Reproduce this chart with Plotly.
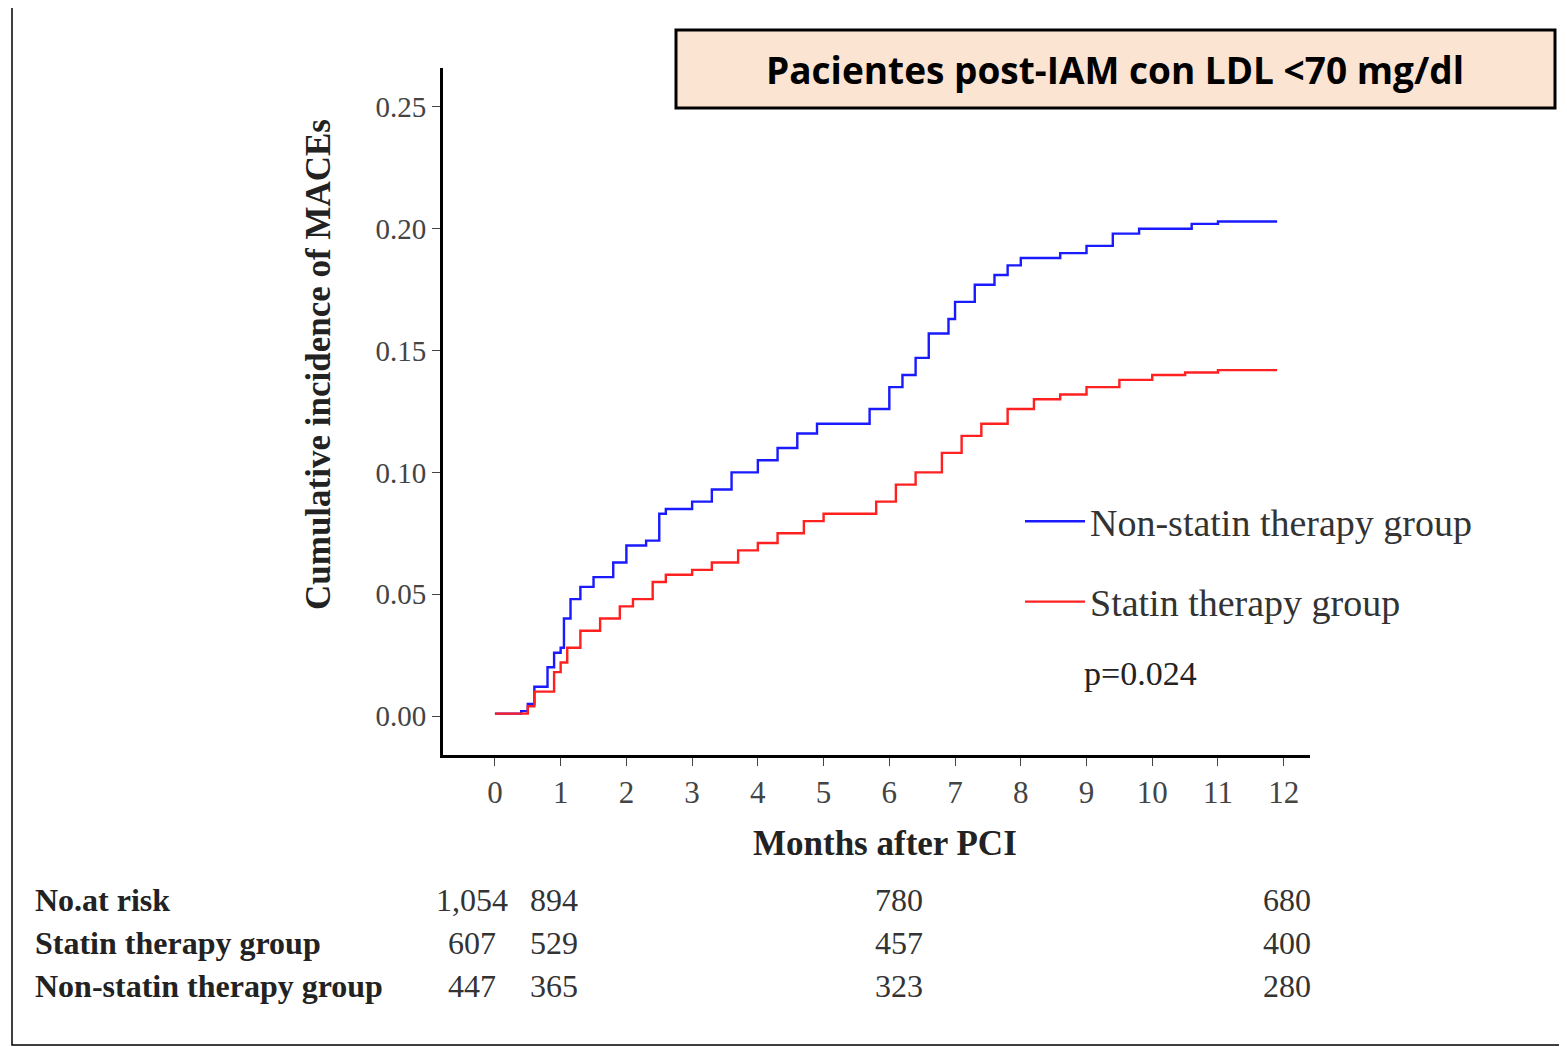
import plotly.graph_objects as go

# Kaplan-Meier style cumulative incidence
non_statin_months = [0, 0.1, 0.4, 0.5, 0.6, 0.8, 0.9, 1.0, 1.05, 1.15, 1.3, 1.5, 1.8, 2.0, 2.3, 2.5, 2.6,
                     3.0, 3.3, 3.6, 4.0, 4.3, 4.6, 4.9, 5.5, 5.7, 6.0, 6.2, 6.4, 6.6, 6.9, 7.0,
                     7.3, 7.6, 7.8, 8.0, 8.6, 9.0, 9.4, 9.8, 10.6, 11.0, 11.9]
non_statin_vals = [0.001, 0.001, 0.002, 0.005, 0.012, 0.02, 0.026, 0.028, 0.04, 0.048, 0.053, 0.057, 0.063,
                   0.07, 0.072, 0.083, 0.085, 0.088, 0.093, 0.1, 0.105, 0.11, 0.116, 0.12, 0.12, 0.126,
                   0.135, 0.14, 0.147, 0.157, 0.163, 0.17, 0.177, 0.181, 0.185, 0.188, 0.19, 0.193,
                   0.198, 0.2, 0.202, 0.203, 0.203]
statin_months = [0, 0.1, 0.5, 0.6, 0.9, 1.0, 1.1, 1.3, 1.6, 1.9, 2.1, 2.4, 2.6, 3.0, 3.3, 3.7, 4.0,
                 4.3, 4.7, 5.0, 5.5, 5.8, 6.1, 6.4, 6.8, 7.1, 7.4, 7.8, 8.2, 8.6, 9.0, 9.5, 10.0,
                 10.5, 11.0, 11.9]
statin_vals = [0.001, 0.001, 0.004, 0.01, 0.018, 0.022, 0.028, 0.035, 0.04, 0.045, 0.048, 0.055, 0.058,
               0.06, 0.063, 0.068, 0.071, 0.075, 0.08, 0.083, 0.083, 0.088, 0.095, 0.1, 0.108, 0.115,
               0.12, 0.126, 0.13, 0.132, 0.135, 0.138, 0.14, 0.141, 0.142, 0.142]

risk_labels = ["No.at risk", "Statin therapy group", "Non-statin therapy group"]
risk_total = ["1,054", "894", "780", "680"]
risk_statin = ["607", "529", "457", "400"]
risk_non_statin = ["447", "365", "323", "280"]
risk_cols = [-0.35, 0.9, 6.15, 12.05]

W, H = 1567, 1047
OFF = 8  # page body offset
L, R, T, B = 443 - OFF, 1310 - OFF, 68 - OFF, 755 - OFF


def px(x, y):
    return (x - OFF - L) / (R - L), (B - (y - OFF)) / (B - T)


serif = "Liberation Serif, Times New Roman, serif"

fig = go.Figure()
fig.add_trace(go.Scatter(x=non_statin_months, y=non_statin_vals, mode="lines", line_shape="hv",
                         line=dict(color="#1a1aff", width=2.4), name="Non-statin therapy group",
                         legendgroup="a"))
fig.add_trace(go.Scatter(x=statin_months, y=statin_vals, mode="lines", line_shape="hv",
                         line=dict(color="#ff2020", width=2.4), name="Statin therapy group",
                         legendgroup="b"))


def note(x, y, text, size, xanchor="center", **kw):
    a, b = px(x, y)
    return dict(x=a, y=b, xref="paper", yref="paper", text=text, showarrow=False,
                xanchor=xanchor, yanchor="middle", font=dict(family=serif, size=size, color="#222"), **kw)


ann = []
for row, (lab, vals) in enumerate(zip(risk_labels, [risk_total, risk_statin, risk_non_statin])):
    yy = [900, 943, 986][row]
    ann.append(note(33, yy, "<b>" + lab + "</b>", 32, xanchor="left"))
    y0 = px(0, yy)[1]
    for c, v in zip(risk_cols, vals):
        ann.append(dict(x=c, y=y0, xref="x", yref="paper", text=v, showarrow=False,
                        xanchor="center", yanchor="middle",
                        font=dict(family=serif, size=32, color="#333")))

ann.append(note(1140, 673, "p=0.024", 34))
ann.append(note(885, 843, "<b>Months after PCI</b>", 35))
ann.append(note(318, 365, "<b>Cumulative incidence of MACEs</b>", 35, textangle=-90))
t = note(1115, 70, "<b>Pacientes post-IAM con LDL <70 mg/dl</b>", 37)
t["font"] = dict(family="Open Sans, Liberation Sans, sans-serif", size=37, color="black")
ann.append(t)

bx0, by0 = px(676, 30)
bx1, by1 = px(1555, 108)
ox0, oy0 = px(12, 6)
ox1, oy1 = px(1565, 1045)
shapes = [
    dict(type="rect", xref="paper", yref="paper", x0=bx0, y0=by0, x1=bx1, y1=by1,
         fillcolor="#fce4d2", line=dict(color="black", width=3), layer="below"),
    dict(type="rect", xref="paper", yref="paper", x0=ox0, y0=oy0, x1=ox1, y1=oy1,
         line=dict(color="black", width=1.5)),
]

lx, ly = px(1020, 490)
fig.update_layout(
    width=W, height=H, paper_bgcolor="white", plot_bgcolor="white",
    margin=dict(l=L, r=W - R, t=T, b=H - B, autoexpand=False),
    xaxis=dict(range=[-0.79, 12.4], tickvals=list(range(13)), ticks="outside", ticklen=8,
               showline=True, linecolor="black", linewidth=3, showgrid=False, zeroline=False,
               tickfont=dict(family=serif, size=31, color="#444")),
    yaxis=dict(range=[-0.016, 0.266], tickvals=[0, 0.05, 0.1, 0.15, 0.2, 0.25], tickformat=".2f",
               ticks="outside", ticklen=8, showline=True, linecolor="black", linewidth=3,
               showgrid=False, zeroline=False, tickfont=dict(family=serif, size=29, color="#444")),
    legend=dict(x=lx, y=ly, xanchor="left", yanchor="top", bgcolor="rgba(0,0,0,0)", itemwidth=60,
                font=dict(family=serif, size=38, color="#333"), tracegroupgap=28),
    annotations=ann, shapes=shapes,
)
fig.write_html("out.html")
